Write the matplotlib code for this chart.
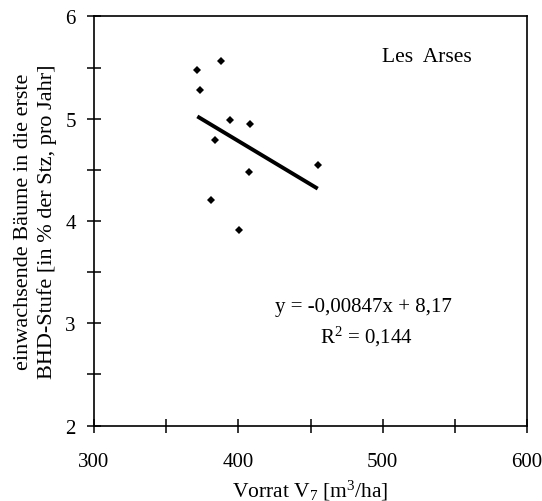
import numpy as np
import matplotlib; matplotlib.use("Agg")
import matplotlib.pyplot as plt
from matplotlib.ticker import MultipleLocator

plt.rcParams["font.family"] = ["Liberation Serif", "DejaVu Serif"]
plt.rcParams["mathtext.fontset"] = "custom"
plt.rcParams["mathtext.rm"] = "Liberation Serif"
plt.rcParams["mathtext.it"] = "Liberation Serif:italic"

# --- data (Les Arses) ---
vorrat = [371.2, 388.0, 373.2, 394.0, 407.9, 383.6, 455.0, 407.2, 381.3, 400.5]
einwuchs = [5.48, 5.56, 5.28, 4.99, 4.95, 4.79, 4.55, 4.48, 4.21, 3.91]
slope, intercept = -0.00847, 8.17
fit_x = [371.6, 455.0]

fig = plt.figure(figsize=(5.42, 5.02), dpi=100)
ax = fig.add_axes([0.1734, 0.1502, 0.799, 0.8151])

ax.plot(vorrat, einwuchs, "D", color="black", ms=3.6, mew=0)
fx = np.array(fit_x)
ax.plot(fx, slope * fx + intercept, "-", color="black", lw=2.8, solid_capstyle="butt")

ax.set_xlim(300, 600); ax.set_ylim(2, 6)
ax.xaxis.set_major_locator(MultipleLocator(100)); ax.xaxis.set_minor_locator(MultipleLocator(50))
ax.yaxis.set_major_locator(MultipleLocator(1)); ax.yaxis.set_minor_locator(MultipleLocator(0.5))
ax.tick_params(which="both", direction="inout", length=10, width=1.1, labelsize=15)
ax.tick_params(axis="x", which="major", pad=14)
ax.tick_params(axis="y", which="major", pad=8)
for s in ax.spines.values():
    s.set_linewidth(1.2)

ax.set_xlabel("Vorrat V$_\\mathrm{7}$ [m$^\\mathrm{3}$/ha]", fontsize=15.5, labelpad=5)
ax.set_ylabel("einwachsende Bäume in die erste\nBHD-Stufe [in % der Stz, pro Jahr]",
              fontsize=16, labelpad=6, linespacing=1.3)

ax.text(530.8, 5.61, "Les  Arses", ha="center", va="center", fontsize=15.5)
ax.text(487, 3.16, "y = -0,00847x + 8,17", ha="center", va="center", fontsize=15)
ax.text(489, 2.875, "R$^\\mathrm{2}$ = 0,144", ha="center", va="center", fontsize=15)

fig.savefig("out.png", dpi=100)
